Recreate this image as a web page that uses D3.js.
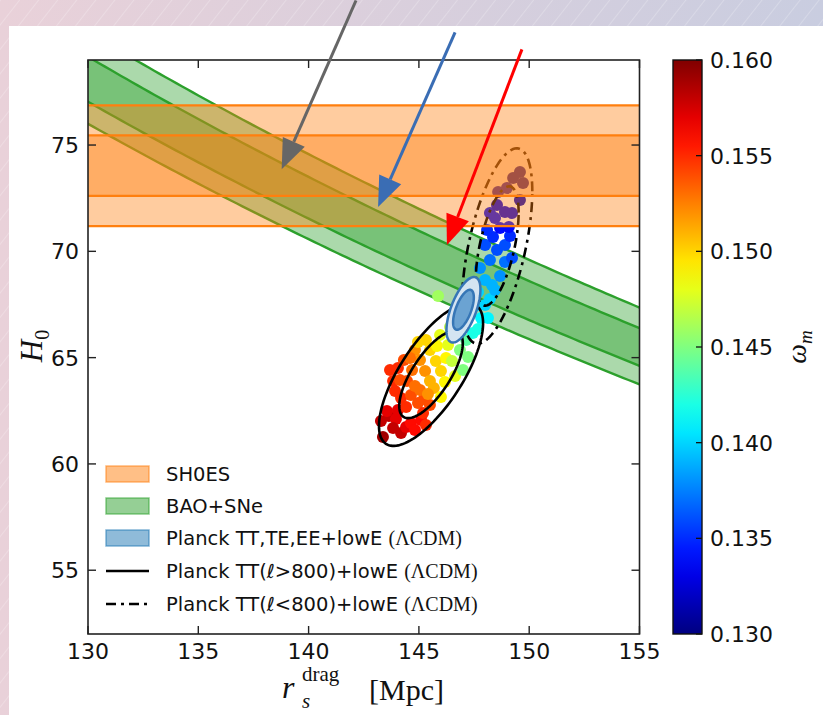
<!DOCTYPE html>
<html>
<head>
<meta charset="utf-8">
<title>H0 vs r_s drag</title>
<script src="https://cdn.jsdelivr.net/npm/d3@7"></script>
<style>
  body { margin: 0; background: #fff; }
  svg text { font-family: "DejaVu Sans", sans-serif; fill: #111; }
</style>
</head>
<body>
<div id="chart"></div>
<script>
// SH0ES H0 band, 1 and 2 sigma (km/s/Mpc)
const shoes1 = [72.61, 75.45];
const shoes2 = [71.19, 76.87];
// BAO+SNe band, given as H0 * r_s products (1 and 2 sigma)
const bao1 = [10015, 10290];
const bao2 = [9880, 10440];
// gaussian contours: [rs, H0, sigma rs, sigma H0, rho]
const planckAll = [147.02, 67.25, 0.31, 0.62, 0.62];
const planckHigh = [145.55, 64.2, 0.95, 1.35, 0.72];
const planckLow = [148.55, 70.25, 0.64, 1.85, 0.56];

const xTicks = [130, 135, 140, 145, 150, 155];
const yTicks = [55, 60, 65, 70, 75];
const cTicks = [0.130, 0.135, 0.140, 0.145, 0.150, 0.155, 0.160];

// chain points: r_s, H0, omega_m
const rsPts = [143.37,143.28,143.64,143.96,144.19,144.42,144.64,144.82,145.10,145.32,143.83,143.55,144.05,
  143.69,144.05,143.83,143.92,144.19,144.42,144.64,144.96,145.23,145.19,144.46,144.82,144.14,144.69,145.05,144.32,145.50,
  145.05,145.28,145.50,145.68,145.41,144.82,144.60,
  145.50,145.77,146.00,146.18,145.32,144.96,146.23,146.00,145.82,
  145.96,146.32,146.50,146.64,146.41,
  145.87,147.00,146.86,147.14,147.23,
  147.45,147.68,147.82,147.54,147.32,148.00,147.68,148.22,147.36,148.45,148.13,
  148.00,148.31,147.77,148.68,148.90,
  148.22,148.54,148.00,148.90,148.36,149.13,148.09,148.68,149.08,149.22,
  148.45,148.90,148.22,149.22,148.54,149.58,148.59,148.99,149.27,149.58,149.72];
const h0Pts = [61.27,62.02,62.25,62.11,61.46,61.74,61.93,61.60,62.07,61.83,61.69,62.49,62.54,
  64.42,64.51,63.90,63.43,63.10,62.68,63.24,62.87,63.05,62.40,63.90,63.67,63.95,64.42,63.48,64.89,62.77,
  64.89,64.37,63.90,63.57,63.29,65.36,64.98,
  65.36,64.84,64.37,63.85,65.83,65.74,64.98,63.15,65.55,
  66.07,65.59,64.84,64.14,66.44,
  67.90,64.42,65.36,65.83,65.03,
  66.16,66.35,66.86,67.43,67.95,67.48,68.09,67.76,68.51,68.18,66.86,
  68.65,68.42,69.22,68.84,69.50,
  69.59,70.06,70.30,70.30,70.67,70.72,71.00,71.10,71.14,69.69,
  71.57,71.85,71.80,71.80,72.18,72.41,72.79,72.98,73.45,73.73,73.21];
const omPts = [0.159,0.158,0.158,0.157,0.158,0.157,0.156,0.156,0.156,0.155,0.158,0.157,0.157,
  0.155,0.155,0.155,0.155,0.155,0.155,0.154,0.154,0.154,0.155,0.154,0.153,0.154,0.153,0.153,0.154,0.154,
  0.152,0.152,0.151,0.151,0.152,0.152,0.153,
  0.150,0.150,0.150,0.149,0.150,0.150,0.149,0.149,0.149,
  0.148,0.148,0.147,0.148,0.147,
  0.146,0.145,0.145,0.144,0.145,
  0.142,0.142,0.141,0.141,0.141,0.140,0.140,0.140,0.140,0.139,0.141,
  0.139,0.139,0.138,0.138,0.137,
  0.137,0.136,0.136,0.136,0.135,0.135,0.135,0.134,0.134,0.136,
  0.134,0.133,0.134,0.133,0.133,0.132,0.132,0.132,0.131,0.131,0.131];

// annotation arrows: tail and tip in data units
const arrowTail = [[142.15, 81.8], [146.64, 80.3], [149.67, 79.5]];
const arrowTip = [[138.78, 73.86], [143.15, 72.09], [146.27, 70.3]];
const arrowColor = ["#666666", "#3a6db4", "#ff0000"];

const legendLabels = ["SH0ES", "BAO+SNe", "Planck TT,TE,EE+lowE ", "Planck TT(\u2113>800)+lowE ", "Planck TT(\u2113<800)+lowE "];

const W = 823, H = 715;
const x = d3.scaleLinear().domain([130, 155]).range([88, 639.5]);
const y = d3.scaleLinear().domain([52, 79]).range([634, 60]);
const cb = d3.scaleLinear().domain([0.130, 0.160]).range([634, 60]);

function jet(t) {
  const f = v => Math.max(0, Math.min(1, v));
  const r = f(1.5 - Math.abs(4 * t - 3)), g = f(1.5 - Math.abs(4 * t - 2)), b = f(1.5 - Math.abs(4 * t - 1));
  return d3.rgb(r * 255, g * 255, b * 255).formatHex();
}
const color = d3.scaleSequential(jet).domain([0.130, 0.160]);

const svg = d3.select("#chart").append("svg").attr("width", W).attr("height", H);
const defs = svg.append("defs");

const bg = defs.append("linearGradient").attr("id", "bg");
bg.append("stop").attr("offset", "0%").attr("stop-color", "#e9d1d9");
bg.append("stop").attr("offset", "100%").attr("stop-color", "#c9cde0");
const hatch = defs.append("pattern").attr("id", "hatch").attr("width", 15).attr("height", 15)
  .attr("patternUnits", "userSpaceOnUse").attr("patternTransform", "rotate(38)");
hatch.append("line").attr("x1", 0).attr("y1", 0).attr("x2", 0).attr("y2", 15)
  .attr("stroke", "#fff").attr("stroke-opacity", 0.45).attr("stroke-width", 1);

const cgrad = defs.append("linearGradient").attr("id", "cgrad")
  .attr("x1", 0).attr("y1", 1).attr("x2", 0).attr("y2", 0);
d3.range(0, 1.0001, 0.05).forEach(t => cgrad.append("stop").attr("offset", t).attr("stop-color", jet(t)));

defs.append("clipPath").attr("id", "clip").append("rect")
  .attr("x", 88).attr("y", 60).attr("width", 551.5).attr("height", 574);

svg.append("rect").attr("width", W).attr("height", H).attr("fill", "url(#bg)");
svg.append("rect").attr("width", W).attr("height", H).attr("fill", "url(#hatch)");
svg.append("rect").attr("x", 9).attr("y", 26).attr("width", W - 9).attr("height", H - 26).attr("fill", "#fff");

const plot = svg.append("g").attr("clip-path", "url(#clip)");

// BAO+SNe band fills
const rsGrid = d3.range(128, 157.01, 0.25);
[bao2, bao1].forEach(b => {
  plot.append("path")
    .attr("d", d3.area().x(r => x(r)).y0(r => y(b[0] / r)).y1(r => y(b[1] / r))(rsGrid))
    .attr("fill", "#2ca02c").attr("fill-opacity", 0.4);
});
[bao2[0], bao2[1], bao1[0], bao1[1]].forEach(v => {
  plot.append("path").attr("d", d3.line().x(r => x(r)).y(r => y(v / r))(rsGrid))
    .attr("fill", "none").attr("stroke", "#2ca02c").attr("stroke-width", 2.4);
});

// chain samples
plot.selectAll("circle.pt").data(rsPts).join("circle").attr("class", "pt")
  .attr("cx", (d, i) => x(rsPts[i])).attr("cy", (d, i) => y(h0Pts[i]))
  .attr("r", 6).attr("fill", (d, i) => color(omPts[i]));

const k1 = Math.sqrt(2.30), k2 = Math.sqrt(6.17);
function ellipse(p, k) {
  const [cx, cy, sx, sy, rho] = p;
  const pts = d3.range(0, 360, 3).map(a => {
    const t = a * Math.PI / 180;
    return [x(cx + k * sx * Math.cos(t)), y(cy + k * (rho * sy * Math.cos(t) + sy * Math.sqrt(1 - rho * rho) * Math.sin(t)))];
  });
  return d3.line().curve(d3.curveLinearClosed)(pts);
}

[k1, k2].forEach(k => {
  plot.append("path").attr("d", ellipse(planckHigh, k)).attr("fill", "none")
    .attr("stroke", "#000").attr("stroke-width", 2.6);
  plot.append("path").attr("d", ellipse(planckLow, k)).attr("fill", "none")
    .attr("stroke", "#000").attr("stroke-width", 2.6).attr("stroke-dasharray", "10,5,3,5");
});

// Planck TT,TE,EE ellipse
plot.append("path").attr("d", ellipse(planckAll, k2)).attr("fill", "#d4e4f2")
  .attr("stroke", "#3676b6").attr("stroke-width", 2.5);
plot.append("path").attr("d", ellipse(planckAll, k1)).attr("fill", "#6ba3d2")
  .attr("stroke", "#3676b6").attr("stroke-width", 2.5);

// SH0ES band on top
[shoes2, shoes1].forEach(b => {
  plot.append("rect").attr("x", x(130)).attr("width", x(155) - x(130))
    .attr("y", y(b[1])).attr("height", y(b[0]) - y(b[1]))
    .attr("fill", "#ff7f0e").attr("fill-opacity", 0.4);
});
[shoes2[0], shoes2[1], shoes1[0], shoes1[1]].forEach(v => {
  plot.append("line").attr("x1", x(130)).attr("x2", x(155)).attr("y1", y(v)).attr("y2", y(v))
    .attr("stroke", "#ff7f0e").attr("stroke-width", 2.2);
});

// frame and ticks
svg.append("rect").attr("x", 88).attr("y", 60).attr("width", 551.5).attr("height", 574)
  .attr("fill", "none").attr("stroke", "#222").attr("stroke-width", 1.6);
const ax = svg.append("g").attr("stroke", "#222").attr("stroke-width", 1.4);
xTicks.forEach(t => {
  ax.append("line").attr("x1", x(t)).attr("x2", x(t)).attr("y1", 634).attr("y2", 626);
  ax.append("line").attr("x1", x(t)).attr("x2", x(t)).attr("y1", 60).attr("y2", 68);
  svg.append("text").attr("x", x(t)).attr("y", 659).attr("text-anchor", "middle")
    .attr("font-size", 22).text(t);
});
yTicks.forEach(t => {
  ax.append("line").attr("x1", 88).attr("x2", 96).attr("y1", y(t)).attr("y2", y(t));
  ax.append("line").attr("x1", 639.5).attr("x2", 631.5).attr("y1", y(t)).attr("y2", y(t));
  svg.append("text").attr("x", 79).attr("y", y(t) + 8).attr("text-anchor", "end")
    .attr("font-size", 22).text(t);
});

// axis labels
const serif = "Liberation Serif, DejaVu Serif, serif";
const yl = svg.append("text").attr("transform", "translate(42,346) rotate(-90)")
  .attr("text-anchor", "middle").style("font-family", serif).attr("font-size", 31);
yl.append("tspan").attr("font-style", "italic").text("H");
yl.append("tspan").attr("font-size", 20).attr("dy", 7).text("0");

svg.append("text").attr("x", 282).attr("y", 698).style("font-family", serif)
  .attr("font-size", 32).attr("font-style", "italic").text("r");
svg.append("text").attr("x", 302).attr("y", 681).style("font-family", serif)
  .attr("font-size", 21).text("drag");
svg.append("text").attr("x", 302).attr("y", 708).style("font-family", serif)
  .attr("font-size", 21).attr("font-style", "italic").text("s");
svg.append("text").attr("x", 369).attr("y", 700).style("font-family", serif)
  .attr("font-size", 30).text("[Mpc]");

// colorbar
svg.append("rect").attr("x", 673).attr("y", 60).attr("width", 29).attr("height", 574)
  .attr("fill", "url(#cgrad)").attr("stroke", "#111").attr("stroke-width", 1.4);
cTicks.forEach(t => {
  svg.append("line").attr("x1", 702).attr("x2", 696).attr("y1", cb(t)).attr("y2", cb(t))
    .attr("stroke", "#111").attr("stroke-width", 1.3);
  svg.append("text").attr("x", 710).attr("y", cb(t) + 8).attr("font-size", 22).text(t.toFixed(3));
});
const cl = svg.append("text").attr("transform", "translate(806,347) rotate(-90)")
  .attr("text-anchor", "middle").style("font-family", serif).attr("font-size", 28);
cl.append("tspan").attr("font-style", "italic").text("\u03c9");
cl.append("tspan").attr("font-style", "italic").attr("font-size", 19).attr("dy", 6).text("m");

// arrows
arrowTail.forEach((tail, i) => {
  const x0 = x(tail[0]), y0 = y(tail[1]), x1 = x(arrowTip[i][0]), y1 = y(arrowTip[i][1]);
  const len = Math.hypot(x1 - x0, y1 - y0), ux = (x1 - x0) / len, uy = (y1 - y0) / len;
  const hl = 30, hw = 12;
  const bx = x1 - ux * hl, by = y1 - uy * hl;
  svg.append("line").attr("x1", x0).attr("y1", y0).attr("x2", bx).attr("y2", by)
    .attr("stroke", arrowColor[i]).attr("stroke-width", 3);
  svg.append("path").attr("d", `M${x1},${y1}L${bx - uy * hw},${by + ux * hw}L${bx + uy * hw},${by - ux * hw}Z`)
    .attr("fill", arrowColor[i]);
});

// legend
const rowY = [474, 506, 538, 571, 604];
const lg = svg.append("g");
const patchFill = ["#ff7f0e", "#2ca02c", "#1f77b4"];
patchFill.forEach((c, i) => {
  lg.append("rect").attr("x", 106).attr("y", rowY[i] - 8).attr("width", 43).attr("height", 16)
    .attr("fill", c).attr("fill-opacity", 0.5).attr("stroke", c).attr("stroke-opacity", 0.55).attr("stroke-width", 1.5);
});
lg.append("line").attr("x1", 106).attr("x2", 149).attr("y1", rowY[3]).attr("y2", rowY[3])
  .attr("stroke", "#000").attr("stroke-width", 2.6);
lg.append("line").attr("x1", 106).attr("x2", 149).attr("y1", rowY[4]).attr("y2", rowY[4])
  .attr("stroke", "#000").attr("stroke-width", 2.6).attr("stroke-dasharray", "10,5,3,5");
legendLabels.forEach((s, i) => {
  const t = lg.append("text").attr("x", 166).attr("y", rowY[i] + 7).attr("font-size", 19.5);
  t.append("tspan").text(s);
  if (i >= 2) t.append("tspan").style("font-family", serif).attr("font-size", 20).text("(\u039bCDM)");
});
</script>
</body>
</html>
